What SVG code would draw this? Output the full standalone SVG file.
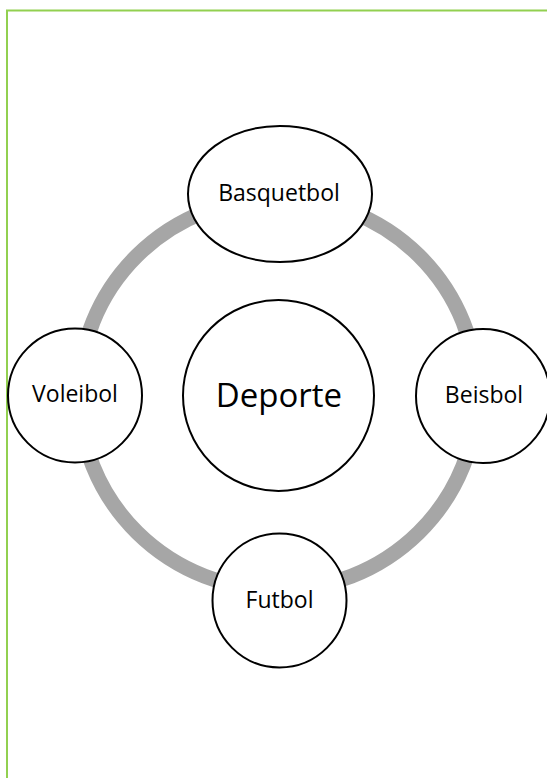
<svg xmlns="http://www.w3.org/2000/svg" width="547" height="778" viewBox="0 0 547 778">
<style>
.node{fill:#ffffff;stroke:#000000;stroke-width:2}
.lbl{font-family:"Open Sans","Liberation Sans",sans-serif;fill:#000000;text-anchor:middle}
.ring{fill:none;stroke:#a6a6a6;stroke-width:15}
</style>
<rect x="0" y="0" width="547" height="778" fill="#ffffff"/>
<path d="M7,790 V10.5 H560" fill="none" stroke="#92d050" stroke-width="2"/>
<g id="connectors">
<ellipse class="ring" cx="278" cy="394" rx="199" ry="196"/>
</g>
<g id="deporte">
<circle class="node" cx="278.5" cy="395.5" r="95.5"/>
<text class="lbl" x="279" y="407" font-size="33">Deporte</text>
</g>
<g id="basquetbol">
<ellipse class="node" cx="280" cy="194" rx="92" ry="68"/>
<text class="lbl" x="279" y="201" font-size="23">Basquetbol</text>
</g>
<g id="beisbol">
<circle class="node" cx="483" cy="396" r="67"/>
<text class="lbl" x="484" y="403" font-size="23">Beisbol</text>
</g>
<g id="futbol">
<circle class="node" cx="279.5" cy="600.5" r="67"/>
<text class="lbl" x="279.5" y="608" font-size="23">Futbol</text>
</g>
<g id="voleibol">
<circle class="node" cx="75" cy="395.5" r="67"/>
<text class="lbl" x="75" y="402" font-size="23">Voleibol</text>
</g>
</svg>
